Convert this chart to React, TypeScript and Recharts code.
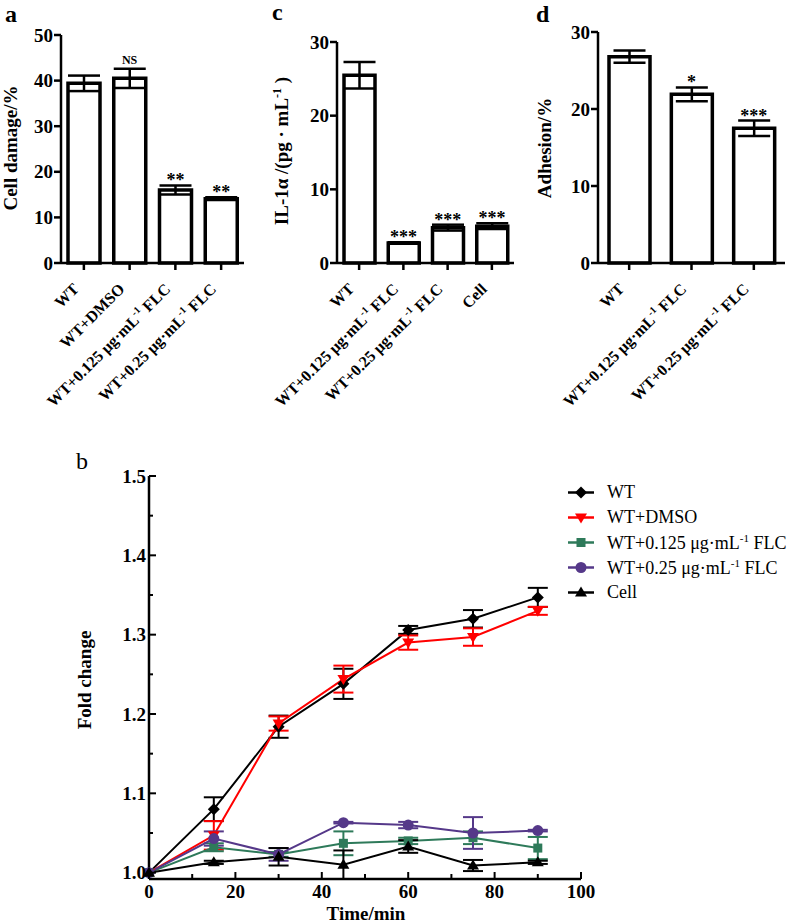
import React from "react";
import {
  Bar,
  ComposedChart,
  ErrorBar,
  LabelList,
  Legend,
  Line,
  LineChart,
  XAxis,
  YAxis,
} from "recharts";

const FONT = "'Liberation Serif', 'Times New Roman', serif";

// panel a: cell damage
const damageCats = ["WT", "WT+DMSO", "WT+0.125 μg·mL^{-1} FLC", "WT+0.25 μg·mL^{-1} FLC"];
const damageValues = [39.4, 40.5, 16.0, 14.1];
const damageErrors = [1.7, 2.1, 1.0, 0.3];
const damageSig = ["", "NS", "**", "**"];
const damageTicks = [0, 10, 20, 30, 40, 50];

// panel c: IL-1a
const il1Cats = ["WT", "WT+0.125 μg·mL^{-1} FLC", "WT+0.25 μg·mL^{-1} FLC", "Cell"];
const il1Values = [25.5, 2.7, 4.8, 5.0];
const il1Errors = [1.8, 0.1, 0.4, 0.4];
const il1Sig = ["", "***", "***", "***"];
const il1Ticks = [0, 10, 20, 30];

// panel d: adhesion
const adhesionCats = ["WT", "WT+0.125 μg·mL^{-1} FLC", "WT+0.25 μg·mL^{-1} FLC"];
const adhesionValues = [26.8, 21.9, 17.5];
const adhesionErrors = [0.8, 0.9, 1.0];
const adhesionSig = ["", "*", "***"];
const adhesionTicks = [0, 10, 20, 30];

// panel b: fold change over time
const timePoints = [0, 15, 30, 45, 60, 75, 90];
const wtFold = [1.0, 1.08, 1.184, 1.238, 1.306, 1.32, 1.347];
const wtFoldErr = [0, 0.015, 0.014, 0.019, 0.005, 0.011, 0.012];
const dmsoFold = [1.0, 1.047, 1.188, 1.244, 1.29, 1.297, 1.33];
const dmsoFoldErr = [0, 0.018, 0.009, 0.017, 0.009, 0.011, 0.005];
const lowFold = [1.0, 1.032, 1.023, 1.037, 1.04, 1.044, 1.031];
const lowFoldErr = [0, 0.005, 0.003, 0.015, 0.004, 0.008, 0.014];
const highFold = [1.0, 1.043, 1.023, 1.063, 1.06, 1.05, 1.053];
const highFoldErr = [0, 0.009, 0.008, 0.001, 0.004, 0.02, 0.001];
const cellFold = [1.0, 1.013, 1.02, 1.01, 1.033, 1.009, 1.013];
const cellFoldErr = [0, 0.002, 0.011, 0.018, 0.008, 0.007, 0.002];
const timeTicks = [0, 10, 20, 30, 40, 50, 60, 70, 80, 90, 100];
const foldTicks = [1.0, 1.05, 1.1, 1.15, 1.2, 1.25, 1.3, 1.35, 1.4, 1.45, 1.5];

const timeData = timePoints.map((t, i) => ({
  t,
  wt: wtFold[i],
  wtErr: wtFoldErr[i],
  dmso: dmsoFold[i],
  dmsoErr: dmsoFoldErr[i],
  low: lowFold[i],
  lowErr: lowFoldErr[i],
  high: highFold[i],
  highErr: highFoldErr[i],
  cell: cellFold[i],
  cellErr: cellFoldErr[i],
}));

const series = [
  { key: "wt", name: "WT", color: "#000000", marker: "diamond" },
  { key: "dmso", name: "WT+DMSO", color: "#ff0000", marker: "down" },
  { key: "low", name: "WT+0.125 μg·mL^{-1} FLC", color: "#2e7a5a", marker: "square" },
  { key: "high", name: "WT+0.25 μg·mL^{-1} FLC", color: "#553889", marker: "circle" },
  { key: "cell", name: "Cell", color: "#000000", marker: "up" },
];

// split "mL^{-1}" into normal / superscript parts
function splitSup(s: string) {
  return s.split(/\^\{([^}]*)\}/);
}

function SvgRich({ text, supSize }: { text: string; supSize: number }) {
  const parts = splitSup(text);
  return (
    <>
      {parts.map((p, i) =>
        i % 2 === 1 ? (
          <tspan key={i} dy={-7} fontSize={supSize}>
            {p}
          </tspan>
        ) : (
          <tspan key={i} dy={i > 0 ? 7 : 0}>
            {i > 0 ? " " + p : p}
          </tspan>
        )
      )}
    </>
  );
}

function HtmlRich({ text }: { text: string }) {
  const parts = splitSup(text);
  return (
    <>
      {parts.map((p, i) =>
        i % 2 === 1 ? (
          <sup key={i} style={{ fontSize: 11, verticalAlign: 7 }}>
            {p}
          </sup>
        ) : (
          <span key={i}>{p}</span>
        )
      )}
    </>
  );
}

const OutYTick = (p: any) => (
  <g>
    <line x1={p.x - 7} x2={p.x} y1={p.y} y2={p.y} stroke="#000" strokeWidth={2.5} />
    <text
      x={p.x - 8}
      y={p.y}
      dy="0.35em"
      textAnchor="end"
      fontFamily={FONT}
      fontWeight="bold"
      fontSize={19}
      fill="#000"
    >
      {p.payload.value}
    </text>
  </g>
);

const CatTick = (p: any) => (
  <g>
    <line x1={p.x} x2={p.x} y1={p.y} y2={p.y + 7} stroke="#000" strokeWidth={2.5} />
    <g transform={`translate(${p.x - 4},${p.y + 27}) rotate(-45)`}>
      <text textAnchor="end" fontFamily={FONT} fontWeight="bold" fontSize={16} fill="#000">
        <SvgRich text={p.payload.value} supSize={10} />
      </text>
    </g>
  </g>
);

const SigLabel = (p: any) => {
  if (!p.value) return null;
  const ns = p.value === "NS";
  return (
    <text
      x={p.x}
      y={Number(p.y) + (ns ? -5 : 1)}
      textAnchor="middle"
      fontFamily={FONT}
      fontWeight="bold"
      fontSize={ns ? 12 : 18}
      fill="#000"
    >
      {p.value}
    </text>
  );
};

function BarPanel(props: {
  left: number;
  width: number;
  plotLeft: number;
  plotRight: number;
  plotTop: number;
  cats: string[];
  values: number[];
  errors: number[];
  sig: string[];
  ticks: number[];
  barSize: number;
}) {
  const data = props.cats.map((c, i) => ({
    name: c,
    value: props.values[i],
    err: props.errors[i],
    top: props.values[i] + props.errors[i],
    sig: props.sig[i],
  }));
  const max = props.ticks[props.ticks.length - 1];
  return (
    <div style={{ position: "absolute", left: props.left, top: 0 }}>
      <ComposedChart
        width={props.width}
        height={432}
        data={data}
        margin={{ top: props.plotTop, right: props.width - props.plotRight, left: 0, bottom: 0 }}
      >
        <XAxis
          dataKey="name"
          height={169}
          interval={0}
          axisLine={{ stroke: "#000", strokeWidth: 2.5 }}
          tickLine={false}
          tickSize={0}
          tickMargin={0}
          tick={<CatTick />}
        />
        <YAxis
          width={props.plotLeft}
          domain={[0, max]}
          ticks={props.ticks}
          axisLine={{ stroke: "#000", strokeWidth: 2.5 }}
          tickLine={false}
          tickSize={0}
          tickMargin={0}
          tick={<OutYTick />}
        />
        <Bar
          dataKey="value"
          fill="#fff"
          stroke="#000"
          strokeWidth={3.5}
          barSize={props.barSize}
          isAnimationActive={false}
        >
          <ErrorBar dataKey="err" width={16} stroke="#000" strokeWidth={2.5} direction="y" />
        </Bar>
        <Line
          dataKey="top"
          stroke="none"
          dot={false}
          activeDot={false}
          isAnimationActive={false}
        >
          <LabelList dataKey="sig" content={SigLabel} />
        </Line>
      </ComposedChart>
    </div>
  );
}

function Marker({ type, cx, cy, color }: { type: string; cx: number; cy: number; color: string }) {
  switch (type) {
    case "diamond":
      return <path d={`M${cx},${cy - 6}L${cx + 6},${cy}L${cx},${cy + 6}L${cx - 6},${cy}Z`} fill={color} />;
    case "down":
      return <path d={`M${cx - 6},${cy - 4}L${cx + 6},${cy - 4}L${cx},${cy + 6}Z`} fill={color} />;
    case "square":
      return <rect x={cx - 4.5} y={cy - 4.5} width={9} height={9} fill={color} />;
    case "circle":
      return <circle cx={cx} cy={cy} r={5.5} fill={color} />;
    default:
      return <path d={`M${cx},${cy - 6}L${cx + 6},${cy + 4}L${cx - 6},${cy + 4}Z`} fill={color} />;
  }
}

const FoldTick = (p: any) => {
  const v = p.payload.value;
  const major = Math.round(v * 100) % 10 === 0;
  return (
    <g>
      <line x1={p.x} x2={p.x + (major ? 7 : 4)} y1={p.y} y2={p.y} stroke="#000" strokeWidth={2} />
      {major && (
        <text
          x={p.x - 3}
          y={p.y}
          dy="0.35em"
          textAnchor="end"
          fontFamily={FONT}
          fontWeight="bold"
          fontSize={19}
          fill="#000"
        >
          {v.toFixed(1)}
        </text>
      )}
    </g>
  );
};

const TimeTick = (p: any) => {
  const v = p.payload.value;
  const major = v % 20 === 0;
  return (
    <g>
      <line x1={p.x} x2={p.x} y1={p.y} y2={p.y - (major ? 7 : 5)} stroke="#000" strokeWidth={2} />
      {major && (
        <text
          x={p.x}
          y={p.y + 19}
          textAnchor="middle"
          fontFamily={FONT}
          fontWeight="bold"
          fontSize={19}
          fill="#000"
        >
          {v}
        </text>
      )}
    </g>
  );
};

const LegendBox = () => (
  <div style={{ fontFamily: FONT, fontSize: 18, color: "#000" }}>
    {series.map((s) => (
      <div key={s.key} style={{ display: "flex", alignItems: "center", height: 25 }}>
        <svg width={42} height={25} style={{ flex: "none" }}>
          <line x1={3} x2={29} y1={12.5} y2={12.5} stroke={s.color} strokeWidth={2.5} />
          <Marker type={s.marker} cx={16} cy={12.5} color={s.color} />
        </svg>
        <span style={{ whiteSpace: "nowrap" }}>
          <HtmlRich text={s.name} />
        </span>
      </div>
    ))}
  </div>
);

export default function App() {
  const titleStyle = { fontFamily: FONT, fontWeight: "bold" as const, fill: "#000" };
  return (
    <div style={{ position: "absolute", left: 0, top: 0, width: 800, height: 924, background: "#fff" }}>
      <BarPanel
        left={0}
        width={270}
        plotLeft={61}
        plotRight={244}
        plotTop={35}
        cats={damageCats}
        values={damageValues}
        errors={damageErrors}
        sig={damageSig}
        ticks={damageTicks}
        barSize={32}
      />
      <BarPanel
        left={270}
        width={260}
        plotLeft={67}
        plotRight={244}
        plotTop={42}
        cats={il1Cats}
        values={il1Values}
        errors={il1Errors}
        sig={il1Sig}
        ticks={il1Ticks}
        barSize={31}
      />
      <BarPanel
        left={530}
        width={270}
        plotLeft={68}
        plotRight={255}
        plotTop={32}
        cats={adhesionCats}
        values={adhesionValues}
        errors={adhesionErrors}
        sig={adhesionSig}
        ticks={adhesionTicks}
        barSize={41}
      />
      <div style={{ position: "absolute", left: 0, top: 440 }}>
        <LineChart
          width={800}
          height={484}
          data={timeData}
          margin={{ top: 36, right: 219, left: 0, bottom: 0 }}
        >
          <XAxis
            type="number"
            dataKey="t"
            domain={[0, 100]}
            ticks={timeTicks}
            interval={0}
            height={45}
            axisLine={{ stroke: "#000", strokeWidth: 2.5 }}
            tickLine={false}
            tickSize={0}
            tickMargin={0}
            tick={<TimeTick />}
          />
          <YAxis
            type="number"
            domain={[1, 1.5]}
            ticks={foldTicks}
            interval={0}
            width={149}
            axisLine={{ stroke: "#000", strokeWidth: 2.5 }}
            tickLine={false}
            tickSize={0}
            tickMargin={0}
            tick={<FoldTick />}
          />
          <Legend
            layout="vertical"
            align="center"
            verticalAlign="middle"
            content={<LegendBox />}
            wrapperStyle={{ left: 565, top: 40, width: 235, bottom: "auto", right: "auto" }}
          />
          {series.map((s) => (
            <Line
              key={s.key}
              dataKey={s.key}
              name={s.name}
              stroke={s.color}
              strokeWidth={2}
              isAnimationActive={false}
              activeDot={false}
              dot={(p: any) => (
                <Marker key={`${s.key}-${p.index}`} type={s.marker} cx={p.cx} cy={p.cy} color={s.color} />
              )}
            >
              <ErrorBar dataKey={`${s.key}Err`} width={10} stroke={s.color} strokeWidth={2} direction="y" />
            </Line>
          ))}
        </LineChart>
      </div>
      <svg
        width={800}
        height={924}
        style={{ position: "absolute", left: 0, top: 0, pointerEvents: "none" }}
      >
        <text x={5} y={22} fontSize={24} {...titleStyle}>a</text>
        <text x={272} y={20} fontSize={24} {...titleStyle}>c</text>
        <text x={536} y={22} fontSize={24} {...titleStyle}>d</text>
        <text x={76} y={469} fontSize={24} fontFamily={FONT} fill="#000">b</text>
        <text x={17} y={148} fontSize={19} textAnchor="middle" transform="rotate(-90 17 148)" {...titleStyle}>
          Cell damage/%
        </text>
        <text x={288} y={151} fontSize={19} textAnchor="middle" transform="rotate(-90 288 151)" {...titleStyle}>
          <SvgRich text={"IL-1α /(pg · mL^{-1})"} supSize={12} />
        </text>
        <text x={551} y={148} fontSize={19} textAnchor="middle" transform="rotate(-90 551 148)" {...titleStyle}>
          Adhesion/%
        </text>
        <text x={91} y={680} fontSize={19} textAnchor="middle" transform="rotate(-90 91 680)" {...titleStyle}>
          Fold change
        </text>
        <text x={366} y={920} fontSize={19} textAnchor="middle" {...titleStyle}>
          Time/min
        </text>
      </svg>
    </div>
  );
}
